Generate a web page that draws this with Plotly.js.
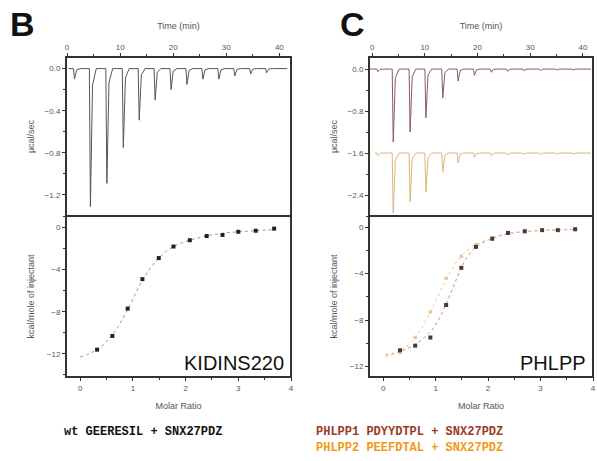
<!DOCTYPE html>
<html>
<head>
<meta charset="utf-8">
<script src="https://cdn.plot.ly/plotly-3.0.1.min.js"></script>
<style>html,body{margin:0;padding:0;background:#fff;}#chart{width:597px;height:461px;}</style>
</head>
<body>
<div id="chart"></div>
<script>
// ---------- Panel B (KIDINS220) ----------
const bInjTime = [1.2, 4.2, 7.3, 10.4, 13.4, 16.4, 19.4, 22.4, 25.4, 28.4, 31.4, 34.4, 37.4];
const bPeak = [-0.10, -1.31, -1.09, -0.75, -0.49, -0.30, -0.20, -0.15, -0.10, -0.10, -0.07, -0.05, -0.04];
const bRatio = [0.32, 0.61, 0.90, 1.18, 1.49, 1.77, 2.08, 2.40, 2.70, 3.00, 3.33, 3.68];
const bHeat = [-11.6, -10.3, -7.7, -4.9, -2.9, -1.8, -1.2, -0.8, -0.7, -0.4, -0.3, -0.1];
const bFitRatio = [0.0, 0.32, 0.61, 0.90, 1.18, 1.49, 1.77, 2.08, 2.40, 2.70, 3.00, 3.33, 3.68];
const bFitHeat = [-12.3, -11.6, -10.2, -7.8, -5.0, -2.9, -1.8, -1.2, -0.8, -0.55, -0.4, -0.3, -0.2];

// ---------- Panel C (PHLPP1 / PHLPP2) ----------
const cInjTime = [0.9, 3.8, 7.0, 10.0, 13.2, 16.1, 19.2, 22.4, 25.5, 28.6, 31.7, 34.8, 37.9];
const c1Peak = [-0.05, -1.39, -1.20, -0.93, -0.55, -0.23, -0.12, -0.06, -0.04, -0.03, -0.03, -0.02, -0.02];
const c2Peak = [-0.05, -1.14, -0.93, -0.74, -0.36, -0.19, -0.08, -0.05, -0.04, -0.03, -0.03, -0.02, -0.02];
const c1Base = 0.0;
const c2Base = -1.6;
const c1Ratio = [0.32, 0.61, 0.90, 1.20, 1.49, 1.77, 2.08, 2.38, 2.70, 3.03, 3.33, 3.66];
const c1Heat = [-10.6, -10.2, -9.5, -6.7, -3.5, -1.7, -1.0, -0.5, -0.35, -0.26, -0.26, -0.18];
const c2Ratio = [0.32, 0.61, 0.90, 1.20, 1.49, 1.77, 2.08, 2.38, 2.70, 3.03, 3.33, 3.66];
const c2Heat = [-10.8, -9.5, -7.3, -4.4, -2.5, -1.5, -0.9, -0.5, -0.4, -0.25, -0.25, -0.2];
const c1FitRatio = [0.04, 0.32, 0.61, 0.90, 1.05, 1.20, 1.35, 1.49, 1.63, 1.77, 2.08, 2.38, 2.70, 3.03, 3.33, 3.66];
const c1FitHeat = [-11.0, -10.7, -10.1, -9.0, -8.0, -6.6, -5.0, -3.5, -2.4, -1.7, -0.95, -0.55, -0.38, -0.28, -0.23, -0.2];
const c2FitRatio = [0.04, 0.32, 0.61, 0.90, 1.20, 1.49, 1.77, 2.08, 2.38, 2.70, 3.03, 3.33, 3.66];
const c2FitHeat = [-11.2, -10.7, -9.5, -7.3, -4.5, -2.5, -1.5, -0.95, -0.6, -0.4, -0.3, -0.25, -0.2];

const timeTicks = [0, 10, 20, 30, 40];
const ratioTicks = [0, 1, 2, 3, 4];
const heatTicks = [0, -4, -8, -12];
const bPowerTicks = [0.0, -0.4, -0.8, -1.2];
const cPowerTicks = [0.0, -0.8, -1.6, -2.4];

// build a thermogram polyline (baseline with spikes) from injection times and peak depths
function thermogram(times, peaks, base, tStart, tEnd) {
  const x = [tStart], y = [base];
  for (let i = 0; i < times.length; i++) {
    const t = times[i], p = peaks[i];
    x.push(t, t + 0.2, t + 0.6, t + 1.3);
    y.push(base, base + p, base + 0.12 * p, base);
  }
  x.push(tEnd); y.push(base);
  return {x, y};
}

const W = 597, H = 461;
const px = (a, b) => [a / W, b / W];
const py = (top, bot) => [1 - bot / H, 1 - top / H];
const domBx = px(66, 291), domCx = px(369, 593);
const domUp = py(57, 216), domLo = py(216, 377);

const axisFont = {family: 'Liberation Sans, Arial, sans-serif', size: 8, color: '#555'};
const titleFont = {family: 'Liberation Sans, Arial, sans-serif', size: 9, color: '#555'};
function ax(extra) {
  return Object.assign({
    showline: false, mirror: false,
    ticks: 'outside', ticklen: 3, tickcolor: '#333', tickwidth: 1,
    showgrid: false, zeroline: false, tickfont: axisFont, fixedrange: true
  }, extra);
}

const bTh = thermogram(bInjTime, bPeak, 0, 0.3, 41.5);
const c1Th = thermogram(cInjTime, c1Peak, c1Base, -0.5, 41.5);
const c2Th = thermogram(cInjTime, c2Peak, c2Base, 0.5, 41.5);

const data = [
  {x: bTh.x, y: bTh.y, xaxis: 'x', yaxis: 'y', mode: 'lines', line: {color: '#555', width: 1}, hoverinfo: 'skip'},
  {x: bFitRatio, y: bFitHeat, xaxis: 'x2', yaxis: 'y2', mode: 'lines', line: {color: '#999', width: 1, dash: 'dot', shape: 'spline'}},
  {x: bRatio, y: bHeat, xaxis: 'x2', yaxis: 'y2', mode: 'markers', marker: {symbol: 'square', size: 4, color: '#222'}},
  {x: c1Th.x, y: c1Th.y, xaxis: 'x3', yaxis: 'y3', mode: 'lines', line: {color: '#8c5a5a', width: 1}},
  {x: c2Th.x, y: c2Th.y, xaxis: 'x3', yaxis: 'y3', mode: 'lines', line: {color: '#d9b878', width: 1}},
  {x: c1FitRatio, y: c1FitHeat, xaxis: 'x4', yaxis: 'y4', mode: 'lines', line: {color: '#c09090', width: 1, dash: 'dot', shape: 'spline'}},
  {x: c2FitRatio, y: c2FitHeat, xaxis: 'x4', yaxis: 'y4', mode: 'lines', line: {color: '#f0c890', width: 1, dash: 'dot', shape: 'spline'}},
  {x: c2Ratio, y: c2Heat, xaxis: 'x4', yaxis: 'y4', mode: 'markers', marker: {symbol: 'circle', size: 4, color: '#e8c8a0'}},
  {x: c1Ratio, y: c1Heat, xaxis: 'x4', yaxis: 'y4', mode: 'markers', marker: {symbol: 'square', size: 4, color: '#4a3a34'}}
];

function frame(dx, dy) {
  return {type: 'rect', xref: 'paper', yref: 'paper', x0: dx[0], x1: dx[1], y0: dy[0], y1: dy[1],
    line: {color: '#333333', width: 2}, fillcolor: 'rgba(0,0,0,0)', layer: 'above'};
}

const layout = {
  width: W, height: H, margin: {l: 0, r: 0, t: 0, b: 0},
  paper_bgcolor: '#fff', plot_bgcolor: '#fff', showlegend: false,
  xaxis: ax({domain: domBx, anchor: 'y', side: 'top', range: [-0.2, 42.2], tickvals: timeTicks,
    minor: {dtick: 5, ticks: 'outside', ticklen: 2, tickcolor: '#333'},
    title: {text: 'Time (min)', font: titleFont, standoff: 11}}),
  yaxis: ax({domain: domUp, anchor: 'x', range: [-1.4, 0.11], tickvals: bPowerTicks, tickformat: '.1f',
    minor: {dtick: 0.2, ticks: 'outside', ticklen: 2, tickcolor: '#333'},
    title: {text: 'µcal/sec', font: titleFont, standoff: 8}}),
  xaxis2: ax({domain: domBx, anchor: 'y2', range: [-0.27, 4.0], tickvals: ratioTicks,
    minor: {dtick: 0.5, ticks: 'outside', ticklen: 2, tickcolor: '#333'},
    title: {text: 'Molar Ratio', font: titleFont, standoff: 11}}),
  yaxis2: ax({domain: domLo, anchor: 'x2', range: [-14.2, 1.1], tickvals: heatTicks,
    minor: {dtick: 2, ticks: 'outside', ticklen: 2, tickcolor: '#333'},
    title: {text: 'kcal/mole of injectant', font: titleFont, standoff: 10}}),
  xaxis3: ax({domain: domCx, anchor: 'y3', side: 'top', range: [-0.6, 41.9], tickvals: timeTicks,
    minor: {dtick: 5, ticks: 'outside', ticklen: 2, tickcolor: '#333'},
    title: {text: 'Time (min)', font: titleFont, standoff: 11}}),
  yaxis3: ax({domain: domUp, anchor: 'x3', range: [-2.8, 0.23], tickvals: cPowerTicks, tickformat: '.1f',
    minor: {dtick: 0.4, ticks: 'outside', ticklen: 2, tickcolor: '#333'},
    title: {text: 'µcal/sec', font: titleFont, standoff: 8}}),
  xaxis4: ax({domain: domCx, anchor: 'y4', range: [-0.27, 4.0], tickvals: ratioTicks,
    minor: {dtick: 0.5, ticks: 'outside', ticklen: 2, tickcolor: '#333'},
    title: {text: 'Molar Ratio', font: titleFont, standoff: 11}}),
  yaxis4: ax({domain: domLo, anchor: 'x4', range: [-12.9, 0.96], tickvals: heatTicks,
    minor: {dtick: 2, ticks: 'outside', ticklen: 2, tickcolor: '#333'},
    title: {text: 'kcal/mole of injectant', font: titleFont, standoff: 10}}),
  shapes: [frame(domBx, domUp), frame(domBx, domLo), frame(domCx, domUp), frame(domCx, domLo)],
  annotations: [
    {text: '<b>B</b>', xref: 'paper', yref: 'paper', x: 8 / W, y: 1 - 24 / H, xanchor: 'left', yanchor: 'middle',
      showarrow: false, font: {family: 'Liberation Sans, Arial, sans-serif', size: 34, color: '#111'}},
    {text: '<b>C</b>', xref: 'paper', yref: 'paper', x: 338 / W, y: 1 - 24 / H, xanchor: 'left', yanchor: 'middle',
      showarrow: false, font: {family: 'Liberation Sans, Arial, sans-serif', size: 34, color: '#111'}},
    {text: 'KIDINS220', xref: 'paper', yref: 'paper', x: 286 / W, y: 1 - 363 / H, xanchor: 'right', yanchor: 'middle',
      showarrow: false, font: {family: 'Liberation Sans, Arial, sans-serif', size: 20, color: '#111'}},
    {text: 'PHLPP', xref: 'paper', yref: 'paper', x: 588 / W, y: 1 - 363 / H, xanchor: 'right', yanchor: 'middle',
      showarrow: false, font: {family: 'Liberation Sans, Arial, sans-serif', size: 20, color: '#111'}},
    {text: '<b>wt GEERESIL + SNX27PDZ</b>', xref: 'paper', yref: 'paper', x: 143 / W, y: 1 - 432 / H, xanchor: 'center', yanchor: 'middle',
      showarrow: false, font: {family: 'Liberation Mono, Courier New, monospace', size: 12, color: '#111'}},
    {text: '<b>PHLPP1 PDYYDTPL + SNX27PDZ</b>', xref: 'paper', yref: 'paper', x: 409 / W, y: 1 - 432 / H, xanchor: 'center', yanchor: 'middle',
      showarrow: false, font: {family: 'Liberation Mono, Courier New, monospace', size: 12, color: '#9c3a2a'}},
    {text: '<b>PHLPP2 PEEFDTAL + SNX27PDZ</b>', xref: 'paper', yref: 'paper', x: 409 / W, y: 1 - 448 / H, xanchor: 'center', yanchor: 'middle',
      showarrow: false, font: {family: 'Liberation Mono, Courier New, monospace', size: 12, color: '#f09a1a'}}
  ]
};

Plotly.newPlot('chart', data, layout, {staticPlot: true, displayModeBar: false});
</script>
</body>
</html>
